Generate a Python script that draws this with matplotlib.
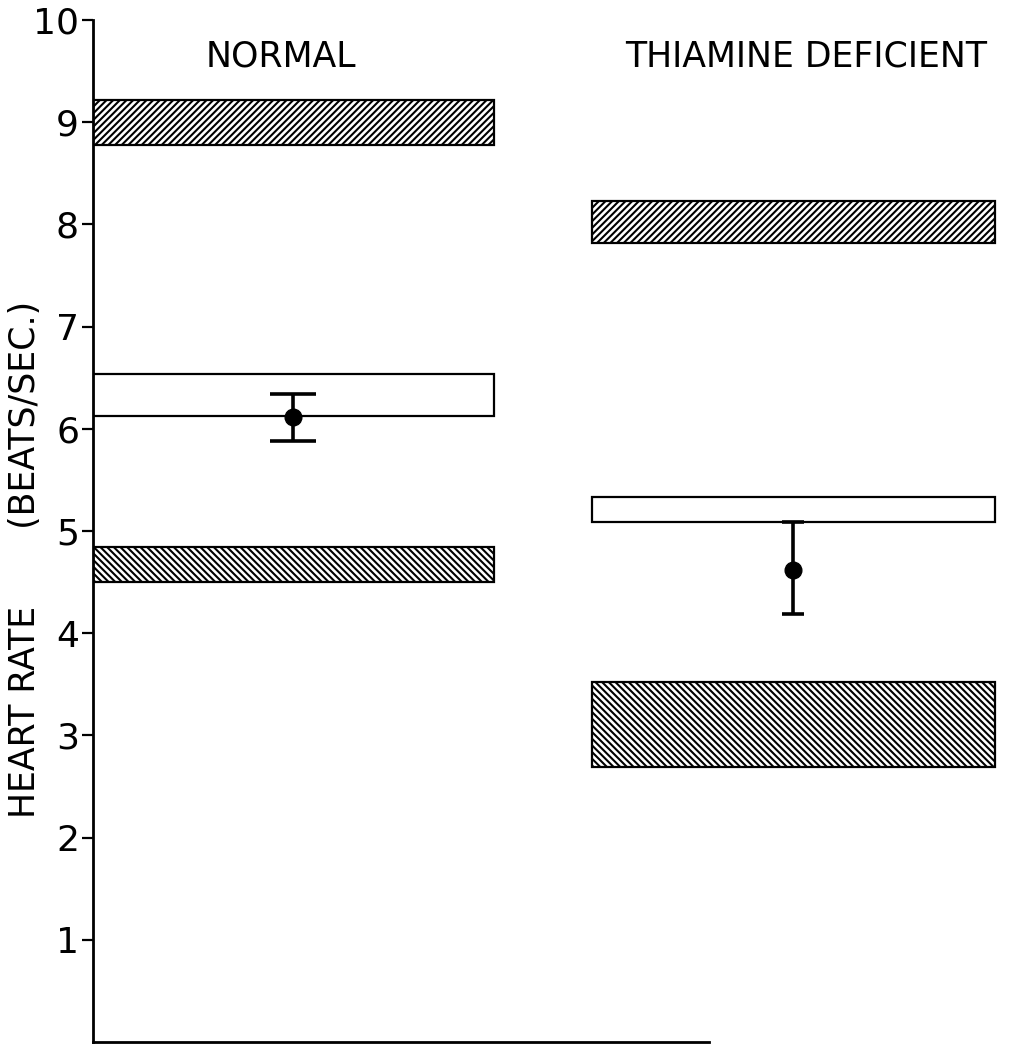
import matplotlib
matplotlib.use("Agg")
import matplotlib.pyplot as plt

plt.rcParams['font.family'] = ['DejaVu Sans']
plt.rcParams['hatch.linewidth'] = 1.5

groups = ["NORMAL", "THIAMINE DEFICIENT"]
upper_hi = [9.22, 8.23]
upper_lo = [8.78, 7.82]
box_hi = [6.54, 5.33]
box_lo = [6.13, 5.09]
lower_hi = [4.84, 3.52]
lower_lo = [4.50, 2.69]
means = [6.12, 4.62]
err_hi = [6.34, 5.09]
err_lo = [5.88, 4.19]
yticks = [1, 2, 3, 4, 5, 6, 7, 8, 9, 10]
ytick_labels = ["1", "2", "3", "4", "5", "6", "7", "8", "9", "10"]

W, H = 1012, 1044
fig = plt.figure(figsize=(W / 100, H / 100), dpi=100)
ax = fig.add_axes([93 / W, 2 / H, (1012 - 93) / W, (1042 - 20) / H])
ax.set_xlim(0, 10)
ax.set_ylim(0, 10)

centers = [2.18, 7.62]
widths = [4.36, 4.38]
cap_w = [0.25, 0.12]
title_x = [2.04, 7.76]

for i in range(2):
    c, w = centers[i], widths[i]
    ax.bar(c, upper_hi[i] - upper_lo[i], bottom=upper_lo[i], width=w,
           facecolor='white', edgecolor='black', linewidth=1.6, hatch='/////')
    ax.bar(c, box_hi[i] - box_lo[i], bottom=box_lo[i], width=w,
           facecolor='white', edgecolor='black', linewidth=1.6)
    ax.bar(c, lower_hi[i] - lower_lo[i], bottom=lower_lo[i], width=w,
           facecolor='white', edgecolor='black', linewidth=1.6, hatch='\\\\\\\\\\')
    ax.errorbar([c], [means[i]], yerr=[[means[i] - err_lo[i]], [err_hi[i] - means[i]]],
                fmt='o', color='black', markersize=12, elinewidth=2.6,
                capsize=cap_w[i] * 92 * 0.72, capthick=2.6, zorder=5)
    ax.text(title_x[i], 9.64, groups[i], ha='center', va='center',
            fontsize=25)

ax.set_yticks(yticks)
ax.set_yticklabels(ytick_labels, fontsize=26)
ax.set_xticks([])
ax.tick_params(axis='y', direction='out', length=8, width=1.6, pad=2)
for s in ['top', 'right']:
    ax.spines[s].set_visible(False)
ax.spines['left'].set_linewidth(2)
ax.spines['bottom'].set_linewidth(2)
ax.spines['bottom'].set_bounds(0, 6.7)
ax.set_ylabel("HEART RATE       (BEATS/SEC.)", fontsize=25)
ax.yaxis.set_label_coords(-51 / 919, 0.472)

fig.savefig("out.png", dpi=100)
